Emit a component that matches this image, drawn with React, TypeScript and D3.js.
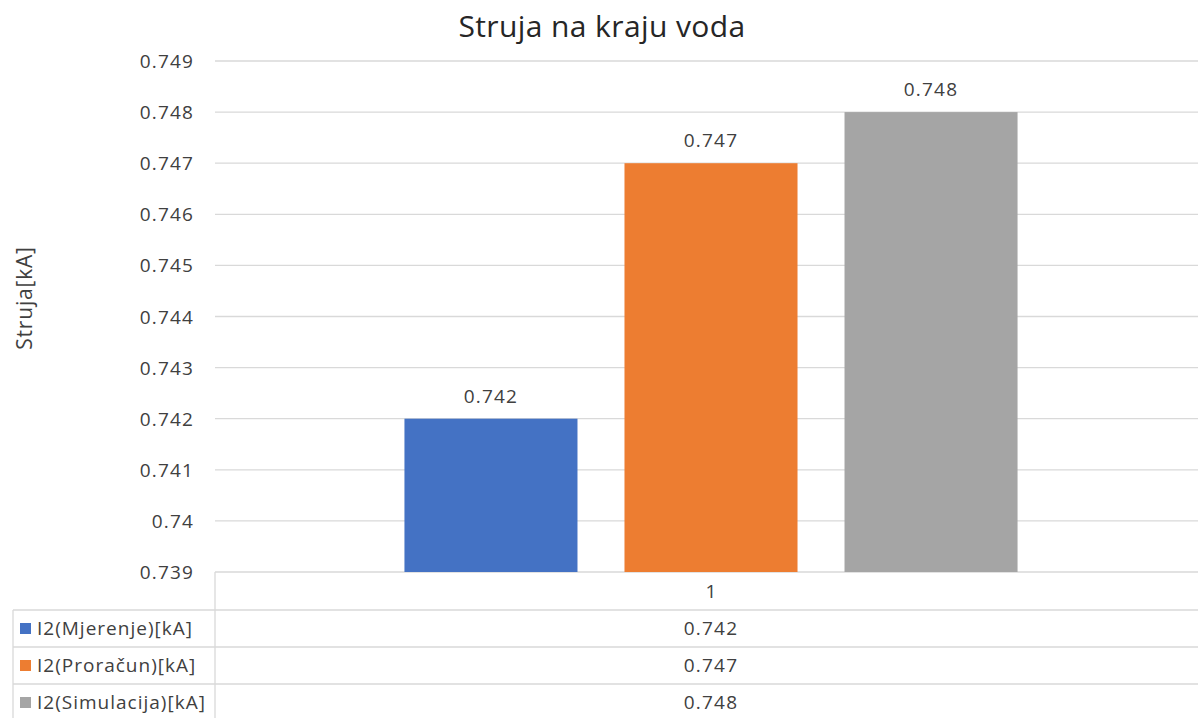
import React from "react";
import * as d3 from "d3";

const categories = ["1"];
const seriesNames = ["I2(Mjerenje)[kA]", "I2(Proračun)[kA]", "I2(Simulacija)[kA]"];
const seriesValues = [0.742, 0.747, 0.748];
const seriesColors = ["#4472C4", "#ED7D31", "#A5A5A5"];
const yTicks = [0.739, 0.74, 0.741, 0.742, 0.743, 0.744, 0.745, 0.746, 0.747, 0.748, 0.749];

const W = 1198, H = 718;
const plotL = 215, plotR = 1207, plotT = 61, plotB = 572;
const rowH = 37;
const font = "'Open Sans', 'Liberation Sans', sans-serif";
const numLS = 1.2;

export default function App() {
  const y = d3.scaleLinear().domain([0.739, 0.749]).range([plotB, plotT]);
  const x0 = d3.scaleBand().domain(categories).range([plotL, plotR]);
  const x1 = d3.scaleBand().domain(seriesNames).range([0, x0.bandwidth()]).paddingInner(0.2136).paddingOuter(0.861);
  const fmt = (v: number) => String(+v.toFixed(3));
  const tableTop = plotB + 38;
  return (
    <svg width={W} height={H} style={{ position: "absolute", left: 0, top: 0, background: "#fff" }} fontFamily={font}>
      <text x={602} y={37} textAnchor="middle" fontSize={30} letterSpacing={0.4} fill="#262626">Struja na kraju voda</text>
      {yTicks.map((t) => (
        <g key={t}>
          <line x1={plotL} x2={W} y1={y(t)} y2={y(t)} stroke="#d9d9d9" strokeWidth={1.3} />
          <text x={193 + numLS} y={y(t) + 7} textAnchor="end" fontSize={19} letterSpacing={numLS} fill="#404040">{fmt(t)}</text>
        </g>
      ))}
      <text transform={`translate(32,${298}) rotate(-90)`} textAnchor="middle" fontSize={21} letterSpacing={0.8} fill="#404040">Struja[kA]</text>
      {categories.map((c) => (
        <g key={c} transform={`translate(${x0(c)},0)`}>
          {seriesNames.map((s, i) => (
            <g key={s}>
              <rect x={x1(s)} y={y(seriesValues[i])} width={x1.bandwidth()} height={plotB - y(seriesValues[i])} fill={seriesColors[i]} />
              <text x={(x1(s) as number) + x1.bandwidth() / 2} y={y(seriesValues[i]) - 16} textAnchor="middle" fontSize={19} letterSpacing={numLS} fill="#404040">{fmt(seriesValues[i])}</text>
            </g>
          ))}
          <text x={x0.bandwidth() / 2} y={plotB + 26} textAnchor="middle" fontSize={19} fill="#404040">{c}</text>
          {seriesNames.map((s, i) => (
            <text key={s} x={x0.bandwidth() / 2} y={tableTop + rowH * i + 25} textAnchor="middle" fontSize={19} letterSpacing={numLS} fill="#404040">{fmt(seriesValues[i])}</text>
          ))}
        </g>
      ))}
      <line x1={plotL} x2={plotL} y1={plotB} y2={H} stroke="#d9d9d9" strokeWidth={1.3} />
      <line x1={13} x2={13} y1={tableTop} y2={H} stroke="#d9d9d9" strokeWidth={1.3} />
      {seriesNames.map((s, i) => (
        <line key={s} x1={13} x2={W} y1={tableTop + rowH * i} y2={tableTop + rowH * i} stroke="#d9d9d9" strokeWidth={1.3} />
      ))}
      <line x1={13} x2={W} y1={tableTop + rowH * 3} y2={tableTop + rowH * 3} stroke="#d9d9d9" strokeWidth={1.3} />
      {seriesNames.map((s, i) => (
        <g key={s}>
          <rect x={20} y={tableTop + rowH * i + 13} width={11} height={11} fill={seriesColors[i]} />
          <text x={37} y={tableTop + rowH * i + 25} fontSize={19} letterSpacing={1.0} fill="#404040">{s}</text>
        </g>
      ))}
    </svg>
  );
}
